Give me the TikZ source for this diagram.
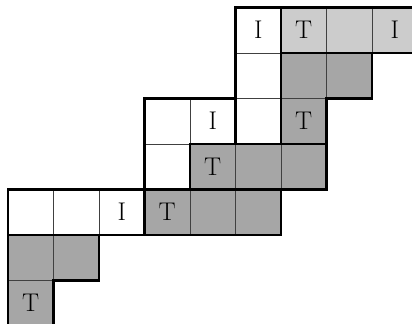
\documentclass[tikz,border=0pt]{standalone}
\usepackage{xcolor}
\definecolor{tabink}{HTML}{000000}
\definecolor{tabrule}{HTML}{404040}
\definecolor{tablight}{HTML}{CCCCCC}
\definecolor{tabdark}{HTML}{A6A6A6}

\begin{document}
\begin{tikzpicture}[x=1cm, y=-1cm,
                    every node/.style={tabink, font=\fontsize{16}{19}\selectfont},
                    thinrule/.style={tabrule, line width=0.6pt},
                    thickrule/.style={tabink, line width=1.7pt, line join=miter}]

%% ==== 圖框: 原圖在右邊與下邊被裁掉一點 ==============================
\useasboundingbox (-0.176,-0.165) rectangle (8.879,6.956);
\clip (-0.176,-0.165) rectangle (8.879,6.956);

%% ==== 底色 ==========================================================
\fill[tablight] (6,0) rectangle (9,1);
\fill[tabdark] (6,1) -- (8,1) -- (8,2) -- (7,2) -- (7,3) -- (6,3) -- cycle;
\fill[tabdark] (4,3) rectangle (7,4);
\fill[tabdark] (3,4) rectangle (6,5);
\fill[tabdark] (0,5) -- (2,5) -- (2,6) -- (1,6) -- (1,7) -- (0,7) -- cycle;

%% ==== 細格線: 每一格 (行, 列) ======================================
\foreach \c/\r in {5/0,6/0,7/0,8/0, 5/1,6/1,7/1,
                   3/2,4/2,5/2,6/2, 3/3,4/3,5/3,6/3,
                   0/4,1/4,2/4,3/4,4/4,5/4, 0/5,1/5, 0/6}
  \draw[thinrule] (\c,\r) rectangle ++(1,1);

%% ==== 粗框: 各個區塊 ================================================
\draw[thickrule] (5,0) -- (6,0) -- (6,3) -- (5,3) -- cycle;
\draw[thickrule] (6,0) rectangle (9,1);
\draw[thickrule] (6,1) -- (8,1) -- (8,2) -- (7,2) -- (7,3) -- (6,3) -- cycle;
\draw[thickrule] (3,2) -- (5,2) -- (5,3) -- (4,3) -- (4,4) -- (3,4) -- cycle;
\draw[thickrule] (4,3) rectangle (7,4);
\draw[thickrule] (3,4) rectangle (6,5);
\draw[thickrule] (0,4) rectangle (3,5);
\draw[thickrule] (0,5) -- (2,5) -- (2,6) -- (1,6) -- (1,7) -- (0,7) -- cycle;

%% ==== 格內字母 ======================================================
\node (iA) at (5.5,0.5) {I};
\node (tA) at (6.5,0.5) {T};
\node (iB) at (8.5,0.5) {I};
\node (iC) at (4.5,2.5) {I};
\node (tB) at (6.5,2.5) {T};
\node (tC) at (4.5,3.5) {T};
\node (iD) at (2.5,4.5) {I};
\node (tD) at (3.5,4.5) {T};
\node (tE) at (0.5,6.5) {T};

\end{tikzpicture}
\end{document}
